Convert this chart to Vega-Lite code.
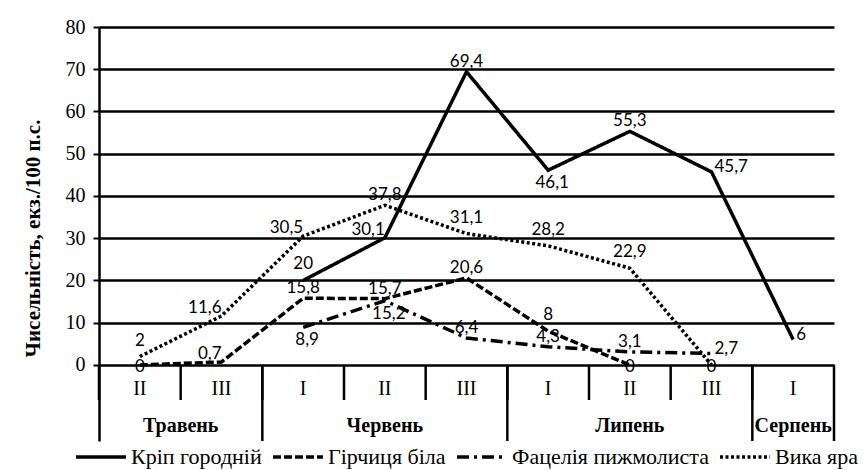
{
  "$schema": "https://vega.github.io/schema/vega-lite/v6.json",
  "width": 735,
  "height": 414,
  "autosize": {"type": "none"},
  "padding": {"left": 99, "top": 27, "right": 34, "bottom": 29},
  "background": "white",
  "config": {
    "view": {"stroke": null},
    "locale": {"number": {"decimal": ",", "thousands": " ", "grouping": [3], "currency": ["", ""]}},
    "font": "Liberation Serif",
    "legend": {"labelFont": "Liberation Serif"},
    "axis": {"labelFont": "Liberation Serif", "titleFont": "Liberation Serif"}
  },
  "datasets": {
    "series": [
      {"series": "Кріп городній", "period": "Ч-I", "value": 20},
      {"series": "Кріп городній", "period": "Ч-II", "value": 30.1},
      {"series": "Кріп городній", "period": "Ч-III", "value": 69.4},
      {"series": "Кріп городній", "period": "Л-I", "value": 46.1},
      {"series": "Кріп городній", "period": "Л-II", "value": 55.3},
      {"series": "Кріп городній", "period": "Л-III", "value": 45.7},
      {"series": "Кріп городній", "period": "С-I", "value": 6},
      {"series": "Гірчиця біла", "period": "Т-II", "value": 0},
      {"series": "Гірчиця біла", "period": "Т-III", "value": 0.7},
      {"series": "Гірчиця біла", "period": "Ч-I", "value": 15.8},
      {"series": "Гірчиця біла", "period": "Ч-II", "value": 15.7},
      {"series": "Гірчиця біла", "period": "Ч-III", "value": 20.6},
      {"series": "Гірчиця біла", "period": "Л-I", "value": 8},
      {"series": "Гірчиця біла", "period": "Л-II", "value": 0},
      {"series": "Фацелія пижмолиста", "period": "Ч-I", "value": 8.9},
      {"series": "Фацелія пижмолиста", "period": "Ч-II", "value": 15.2},
      {"series": "Фацелія пижмолиста", "period": "Ч-III", "value": 6.4},
      {"series": "Фацелія пижмолиста", "period": "Л-I", "value": 4.3},
      {"series": "Фацелія пижмолиста", "period": "Л-II", "value": 3.1},
      {"series": "Фацелія пижмолиста", "period": "Л-III", "value": 2.7},
      {"series": "Вика яра", "period": "Т-II", "value": 2},
      {"series": "Вика яра", "period": "Т-III", "value": 11.6},
      {"series": "Вика яра", "period": "Ч-I", "value": 30.5},
      {"series": "Вика яра", "period": "Ч-II", "value": 37.8},
      {"series": "Вика яра", "period": "Ч-III", "value": 31.1},
      {"series": "Вика яра", "period": "Л-I", "value": 28.2},
      {"series": "Вика яра", "period": "Л-II", "value": 22.9},
      {"series": "Вика яра", "period": "Л-III", "value": 0}
    ],
    "periods": [
      {"period": "Т-II", "decade": "II", "month": "Травень"},
      {"period": "Т-III", "decade": "III", "month": "Травень"},
      {"period": "Ч-I", "decade": "I", "month": "Червень"},
      {"period": "Ч-II", "decade": "II", "month": "Червень"},
      {"period": "Ч-III", "decade": "III", "month": "Червень"},
      {"period": "Л-I", "decade": "I", "month": "Липень"},
      {"period": "Л-II", "decade": "II", "month": "Липень"},
      {"period": "Л-III", "decade": "III", "month": "Липень"},
      {"period": "С-I", "decade": "I", "month": "Серпень"}
    ],
    "months": [
      {"month": "Травень", "period": "Т-III"},
      {"month": "Червень", "period": "Ч-II"},
      {"month": "Липень", "period": "Л-II"},
      {"month": "Серпень", "period": "С-I"}
    ]
  },
  "layer": [
    {
      "data": {"name": "series"},
      "mark": {"type": "line", "strokeWidth": 3.5, "color": "black"},
      "encoding": {
        "x": {
          "field": "period", "type": "ordinal", "bandPosition": 0.5,
          "scale": {"type": "band", "domain": ["Т-II", "Т-III", "Ч-I", "Ч-II", "Ч-III", "Л-I", "Л-II", "Л-III", "С-I"], "paddingInner": 0, "paddingOuter": 0},
          "axis": null
        },
        "y": {
          "field": "value", "type": "quantitative",
          "scale": {"domain": [-18, 80], "nice": false, "zero": false},
          "axis": {
            "values": [0, 10, 20, 30, 40, 50, 60, 70, 80],
            "title": "Чисельність, екз./100 п.с.",
            "titleFont": "Liberation Serif", "titleFontSize": 21, "titleFontWeight": "bold", "titleColor": "black", "titlePadding": 22, "titleY": 211,
            "labelFont": "Liberation Serif", "labelFontSize": 20, "labelColor": "black", "labelPadding": 8,
            "tickColor": "black", "tickSize": 6, "tickWidth": 2,
            "domainColor": "black", "domainWidth": 2.5,
            "grid": true, "gridColor": "black", "gridWidth": 2.5
          }
        },
        "strokeDash": {
          "field": "series", "type": "nominal",
          "scale": {"domain": ["Кріп городній", "Гірчиця біла", "Фацелія пижмолиста", "Вика яра"], "range": [[1, 0], [8, 3], [12, 5, 3, 5], [3, 2.5]]},
          "legend": {
            "title": null, "orient": "none", "direction": "horizontal", "legendX": -25, "legendY": 403,
            "symbolType": "stroke", "symbolSize": 2500, "symbolStrokeWidth": 3.5, "symbolStrokeColor": "black",
            "labelFont": "Liberation Serif", "labelFontSize": 22, "labelColor": "black", "labelOffset": 3, "columnPadding": 4, "labelLimit": 400
          }
        }
      }
    },
    {
      "data": {"name": "series"},
      "transform": [{"filter": "indexof(['Кріп городній|Ч-I','Гірчиця біла|Л-I','Вика яра|Т-II','Вика яра|Ч-III','Вика яра|Л-I','Вика яра|Л-II','Кріп городній|Ч-II','Гірчиця біла|Т-III','Вика яра|Т-III','Вика яра|Ч-I','Кріп городній|Л-I','Фацелія пижмолиста|Ч-I','Фацелія пижмолиста|Ч-II','Кріп городній|Л-III','Кріп городній|С-I','Фацелія пижмолиста|Л-III','Гірчиця біла|Т-II','Гірчиця біла|Л-II','Вика яра|Л-III'], datum.series + '|' + datum.period) < 0"}],
      "mark": {"type": "text", "font": "Lato", "fontSize": 17, "color": "black", "baseline": "middle", "align": "center", "dy": -10},
      "encoding": {
        "x": {"field": "period", "type": "ordinal", "bandPosition": 0.5},
        "y": {"field": "value", "type": "quantitative"},
        "text": {"field": "value", "type": "quantitative", "format": "~g"}
      }
    },
    {
      "data": {"name": "series"},
      "transform": [{"filter": "indexof(['Кріп городній|Ч-I','Гірчиця біла|Л-I','Вика яра|Т-II','Вика яра|Ч-III','Вика яра|Л-I','Вика яра|Л-II'], datum.series + '|' + datum.period) >= 0"}],
      "mark": {"type": "text", "font": "Lato", "fontSize": 17, "color": "black", "baseline": "middle", "align": "center", "dy": -16},
      "encoding": {
        "x": {"field": "period", "type": "ordinal", "bandPosition": 0.5},
        "y": {"field": "value", "type": "quantitative"},
        "text": {"field": "value", "type": "quantitative", "format": "~g"}
      }
    },
    {
      "data": {"name": "series"},
      "transform": [{"filter": "indexof(['Кріп городній|Ч-II','Гірчиця біла|Т-III','Вика яра|Т-III','Вика яра|Ч-I'], datum.series + '|' + datum.period) >= 0"}],
      "mark": {"type": "text", "font": "Lato", "fontSize": 17, "color": "black", "baseline": "middle", "align": "right", "dx": 0, "dy": -8},
      "encoding": {
        "x": {"field": "period", "type": "ordinal", "bandPosition": 0.5},
        "y": {"field": "value", "type": "quantitative"},
        "text": {"field": "value", "type": "quantitative", "format": "~g"}
      }
    },
    {
      "data": {"name": "series"},
      "transform": [{"filter": "indexof(['Кріп городній|Л-I','Фацелія пижмолиста|Ч-I','Фацелія пижмолиста|Ч-II'], datum.series + '|' + datum.period) >= 0"}],
      "mark": {"type": "text", "font": "Lato", "fontSize": 17, "color": "black", "baseline": "middle", "align": "center", "dx": 4, "dy": 13},
      "encoding": {
        "x": {"field": "period", "type": "ordinal", "bandPosition": 0.5},
        "y": {"field": "value", "type": "quantitative"},
        "text": {"field": "value", "type": "quantitative", "format": "~g"}
      }
    },
    {
      "data": {"name": "series"},
      "transform": [{"filter": "indexof(['Кріп городній|Л-III','Кріп городній|С-I','Фацелія пижмолиста|Л-III'], datum.series + '|' + datum.period) >= 0"}],
      "mark": {"type": "text", "font": "Lato", "fontSize": 17, "color": "black", "baseline": "middle", "align": "left", "dx": 3, "dy": -5},
      "encoding": {
        "x": {"field": "period", "type": "ordinal", "bandPosition": 0.5},
        "y": {"field": "value", "type": "quantitative"},
        "text": {"field": "value", "type": "quantitative", "format": "~g"}
      }
    },
    {
      "data": {"name": "series"},
      "transform": [{"filter": "indexof(['Гірчиця біла|Т-II','Гірчиця біла|Л-II','Вика яра|Л-III'], datum.series + '|' + datum.period) >= 0"}],
      "mark": {"type": "text", "font": "Lato", "fontSize": 17, "color": "black", "baseline": "middle", "align": "center", "dy": 2},
      "encoding": {
        "x": {"field": "period", "type": "ordinal", "bandPosition": 0.5},
        "y": {"field": "value", "type": "quantitative"},
        "text": {"field": "value", "type": "quantitative", "format": "~g"}
      }
    },
    {
      "data": {"name": "periods"},
      "mark": {"type": "text", "font": "Liberation Serif", "fontSize": 20, "color": "black", "baseline": "middle", "align": "center"},
      "encoding": {
        "x": {"field": "period", "type": "ordinal", "bandPosition": 0.5},
        "y": {"datum": -5.7},
        "text": {"field": "decade"}
      }
    },
    {
      "data": {"name": "months"},
      "transform": [{"filter": "datum.month === 'Травень'"}],
      "mark": {"type": "text", "font": "Liberation Serif", "fontSize": 20, "fontWeight": "bold", "color": "black", "baseline": "middle", "align": "center"},
      "encoding": {
        "x": {"field": "period", "type": "ordinal", "bandPosition": 0},
        "y": {"datum": -14.5},
        "text": {"field": "month"}
      }
    },
    {
      "data": {"name": "months"},
      "transform": [{"filter": "datum.month !== 'Травень'"}],
      "mark": {"type": "text", "font": "Liberation Serif", "fontSize": 20, "fontWeight": "bold", "color": "black", "baseline": "middle", "align": "center"},
      "encoding": {
        "x": {"field": "period", "type": "ordinal", "bandPosition": 0.5},
        "y": {"datum": -14.5},
        "text": {"field": "month"}
      }
    },
    {
      "data": {"name": "periods"},
      "mark": {"type": "rule", "color": "black", "strokeWidth": 2.5},
      "encoding": {
        "x": {"field": "period", "type": "ordinal", "bandPosition": 0},
        "y": {"datum": 0},
        "y2": {"datum": -8.3}
      }
    },
    {
      "data": {"name": "periods"},
      "transform": [{"filter": "datum.decade === 'I'"}],
      "mark": {"type": "rule", "color": "black", "strokeWidth": 2.5},
      "encoding": {
        "x": {"field": "period", "type": "ordinal", "bandPosition": 0},
        "y": {"datum": 0},
        "y2": {"datum": -18}
      }
    },
    {
      "data": {"name": "periods"},
      "transform": [{"filter": "datum.month === 'Серпень'"}],
      "mark": {"type": "rule", "color": "black", "strokeWidth": 2.5},
      "encoding": {
        "x": {"field": "period", "type": "ordinal", "bandPosition": 1},
        "y": {"datum": 0},
        "y2": {"datum": -18}
      }
    }
  ]
}
